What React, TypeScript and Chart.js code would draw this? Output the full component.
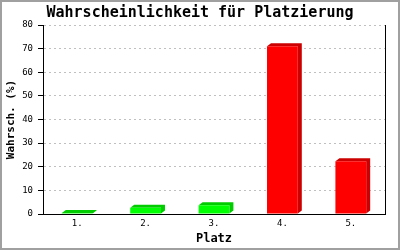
import React, { useEffect, useRef } from "react";
import { Chart, registerables } from "chart.js";

Chart.register(...registerables);

const titleText = "Wahrscheinlichkeit für Platzierung";
const xTitle = "Platz";
const yTitle = "Wahrsch. (%)";
const categories = ["1.", "2.", "3.", "4.", "5."];
const probabilities = [0.4, 2.6, 3.7, 71.0, 22.3];
const barColors = ["#00ff00", "#00ff00", "#00ff00", "#ff0000", "#ff0000"];
const shadowColors = ["#00cc00", "#00cc00", "#00cc00", "#cc0000", "#cc0000"];
const yMin = 0;
const yMax = 80;
const yStep = 10;

const MONO = "'DejaVu Sans Mono', 'Liberation Mono', monospace";

const shadowPlugin = {
  id: "barShadow",
  beforeDatasetsDraw(chart: any) {
    const ctx = chart.ctx;
    const meta = chart.getDatasetMeta(0);
    const dx = 4;
    const dy = 3;
    meta.data.forEach((el: any, i: number) => {
      const { x, y, base, width } = el.getProps(["x", "y", "base", "width"], true);
      const l = x - width / 2;
      const r = x + width / 2;
      ctx.save();
      ctx.fillStyle = shadowColors[i];
      ctx.beginPath();
      ctx.moveTo(l, y);
      ctx.lineTo(l + dx, y - dy);
      ctx.lineTo(r + dx, y - dy);
      ctx.lineTo(r + dx, base - dy);
      ctx.lineTo(r, base);
      ctx.lineTo(r, y);
      ctx.closePath();
      ctx.fill();
      ctx.restore();
    });
  },
};

const framePlugin = {
  id: "frame",
  afterDraw(chart: any) {
    const ctx = chart.ctx;
    ctx.save();
    ctx.strokeStyle = "#a0a0a0";
    ctx.lineWidth = 2;
    ctx.strokeRect(1, 1, chart.width - 2, chart.height - 2);
    ctx.restore();
  },
};

export default function App() {
  const ref = useRef<HTMLCanvasElement | null>(null);

  useEffect(() => {
    document.body.style.margin = "0";
    const canvas = ref.current;
    if (!canvas) return;
    const chart = new Chart(canvas, {
      type: "bar",
      data: {
        labels: categories,
        datasets: [
          {
            data: probabilities,
            backgroundColor: barColors,
            borderWidth: 0,
            barPercentage: 0.45,
            categoryPercentage: 1,
          },
        ],
      },
      options: {
        responsive: false,
        animation: false,
        devicePixelRatio: 1,
        layout: { padding: 0 },
        plugins: {
          legend: { display: false },
          tooltip: { enabled: false },
          title: {
            display: true,
            text: titleText,
            color: "#000",
            font: { family: MONO, size: 15, weight: "bold", lineHeight: 1.2 },
            padding: { top: 4, bottom: 3 },
          },
        },
        scales: {
          x: {
            grid: { display: false, drawTicks: false },
            border: { display: true, color: "#000", width: 1 },
            ticks: {
              color: "#000",
              font: { family: MONO, size: 9 },
              padding: 4,
              maxRotation: 0,
            },
            title: {
              display: true,
              text: xTitle,
              color: "#000",
              font: { family: MONO, size: 12, weight: "bold", lineHeight: 1.2 },
              padding: { top: 0, bottom: 4 },
            },
            afterFit(scale: any) {
              scale.height = 36;
            },
          },
          y: {
            min: yMin,
            max: yMax,
            ticks: {
              stepSize: yStep,
              color: "#000",
              font: { family: MONO, size: 9 },
              padding: 5,
            },
            grid: {
              color: (c: any) => (c.tick && c.tick.value === 0 ? "rgba(0,0,0,0)" : "#c0c0c0"),
              tickColor: "#000",
              tickLength: 5,
              lineWidth: 1,
            },
            border: { display: true, color: "#000", width: 1, dash: [2, 3] },
            title: {
              display: true,
              text: yTitle,
              color: "#000",
              font: { family: MONO, size: 11, weight: "bold", lineHeight: 1.2 },
              padding: { top: 5, bottom: 0 },
            },
            afterFit(scale: any) {
              scale.width = 43;
            },
          },
          y2: {
            position: "right",
            display: true,
            grid: { display: false, drawTicks: false },
            ticks: { display: false },
            border: { display: true, color: "#000", width: 1 },
            afterFit(scale: any) {
              scale.width = 15;
            },
          },
        },
      } as any,
      plugins: [shadowPlugin, framePlugin],
    });
    return () => chart.destroy();
  }, []);

  return (
    <div style={{ position: "fixed", left: 0, top: 0, width: 400, height: 250, background: "#fff" }}>
      <canvas ref={ref} width={400} height={250} />
    </div>
  );
}
